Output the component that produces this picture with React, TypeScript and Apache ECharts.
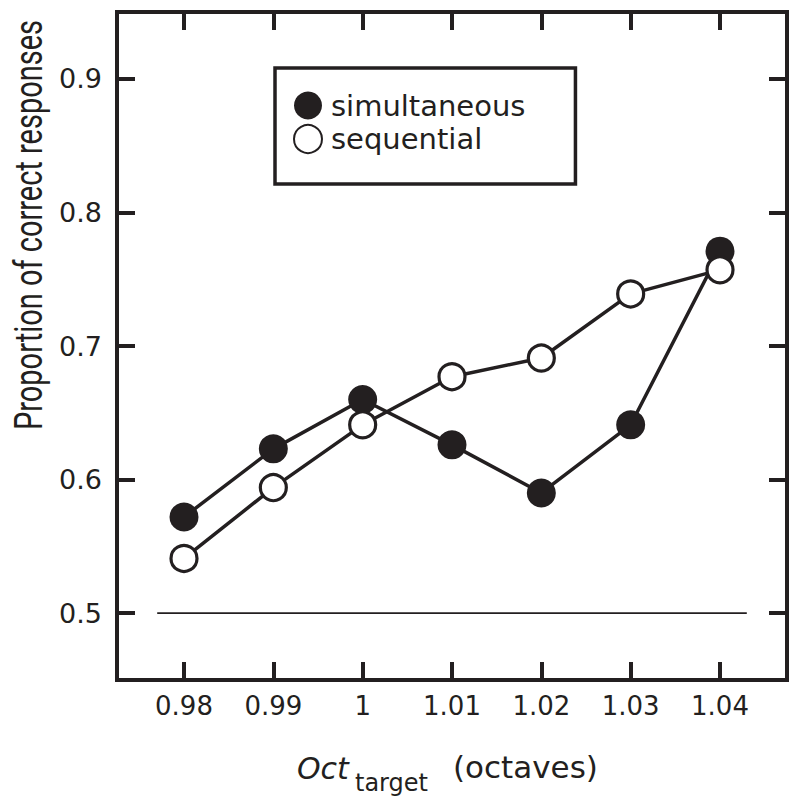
import React, { useEffect, useRef } from "react";
import * as echarts from "echarts";

const xTicks = [0.98, 0.99, 1.0, 1.01, 1.02, 1.03, 1.04];
const xTickLabels = ["0.98", "0.99", "1", "1.01", "1.02", "1.03", "1.04"];
const yTicks = [0.5, 0.6, 0.7, 0.8, 0.9];
const yTickLabels = ["0.5", "0.6", "0.7", "0.8", "0.9"];
const simultaneous = [0.572, 0.623, 0.66, 0.626, 0.59, 0.641, 0.771];
const sequential = [0.541, 0.594, 0.641, 0.677, 0.691, 0.739, 0.757];
const chanceLevel = 0.5;
const chanceLineX = [0.977, 1.043];

const INK = "#231f20";
const FONT = "DejaVu Sans";

export default function App() {
  const ref = useRef<HTMLDivElement>(null);
  useEffect(() => {
    if (!ref.current) return;
    const chart = echarts.init(ref.current, null, { renderer: "svg" });
    const xFmt = (v: number) => {
      let best = 0;
      xTicks.forEach((t, i) => {
        if (Math.abs(t - v) < Math.abs(xTicks[best] - v)) best = i;
      });
      return xTickLabels[best];
    };
    const yFmt = (v: number) => {
      let best = 0;
      yTicks.forEach((t, i) => {
        if (Math.abs(t - v) < Math.abs(yTicks[best] - v)) best = i;
      });
      return yTickLabels[best];
    };
    const tickStyle = { show: true, inside: true, length: 18, lineStyle: { color: INK, width: 4 } };
    const xCommon = {
      type: "value" as const,
      min: 0.9725,
      max: 1.0475,
      axisLine: { show: false },
      splitLine: { show: false },
    };
    const yCommon = {
      type: "value" as const,
      min: 0.45,
      max: 0.95,
      axisLine: { show: false },
      splitLine: { show: false },
    };
    chart.setOption({
      animation: false,
      backgroundColor: "#ffffff",
      grid: {
        left: 117,
        right: 13,
        top: 12,
        bottom: 125,
        show: true,
        borderColor: INK,
        borderWidth: 4,
        backgroundColor: "transparent",
      },
      xAxis: [
        {
          ...xCommon,
          position: "bottom",
          axisTick: { ...tickStyle, customValues: xTicks },
          axisLabel: {
            customValues: xTicks,
            formatter: xFmt,
            color: INK,
            fontFamily: FONT,
            fontSize: 26,
            margin: 13,
          },
        },
        {
          ...xCommon,
          position: "top",
          axisTick: { ...tickStyle, customValues: xTicks },
          axisLabel: { show: false },
        },
      ],
      yAxis: [
        {
          ...yCommon,
          position: "left",
          axisTick: { ...tickStyle, customValues: yTicks },
          axisLabel: {
            customValues: yTicks,
            formatter: yFmt,
            color: INK,
            fontFamily: FONT,
            fontSize: 27,
            margin: 15,
          },
        },
        {
          ...yCommon,
          position: "right",
          axisTick: { ...tickStyle, customValues: yTicks },
          axisLabel: { show: false },
        },
      ],
      legend: {
        data: ["simultaneous", "sequential"],
        orient: "vertical",
        left: 275,
        top: 68,
        icon: "circle",
        itemWidth: 28,
        itemHeight: 28,
        itemGap: 4,
        padding: [23, 50, 30, 18],
        borderColor: INK,
        borderWidth: 3.5,
        borderRadius: 0,
        backgroundColor: "#ffffff",
        textStyle: { color: INK, fontFamily: FONT, fontSize: 29, padding: [0, 0, 0, 4] },
      },
      graphic: [
        {
          type: "text",
          x: 28,
          y: 225,
          rotation: Math.PI / 2,
          scaleY: 1.35,
          style: {
            text: "Proportion of correct responses",
            fill: INK,
            font: `29px Roboto`,
            align: "center",
            verticalAlign: "middle",
          },
        },
        {
          type: "text",
          x: 297,
          y: 783,
          style: {
            text: "Oct",
            fill: INK,
            font: `italic 30px ${FONT}`,
            align: "left",
            verticalAlign: "bottom",
          },
        },
        {
          type: "text",
          x: 355,
          y: 795,
          style: {
            text: "target",
            fill: INK,
            font: `24px ${FONT}`,
            align: "left",
            verticalAlign: "bottom",
          },
        },
        {
          type: "text",
          x: 453,
          y: 782,
          style: {
            text: "(octaves)",
            fill: INK,
            font: `31px ${FONT}`,
            align: "left",
            verticalAlign: "bottom",
          },
        },
      ],
      series: [
        {
          name: "chance",
          type: "line",
          xAxisIndex: 0,
          yAxisIndex: 0,
          data: chanceLineX.map((x) => [x, chanceLevel]),
          symbol: "none",
          lineStyle: { color: INK, width: 1.7 },
          silent: true,
          z: 1,
        },
        {
          name: "simultaneous",
          type: "line",
          xAxisIndex: 0,
          yAxisIndex: 0,
          data: xTicks.map((x, i) => [x, simultaneous[i]]),
          symbol: "circle",
          symbolSize: 29,
          showAllSymbol: true,
          lineStyle: { color: INK, width: 3.5 },
          itemStyle: { color: INK, borderWidth: 0 },
          z: 2,
        },
        {
          name: "sequential",
          type: "line",
          xAxisIndex: 0,
          yAxisIndex: 0,
          data: xTicks.map((x, i) => [x, sequential[i]]),
          symbol: "circle",
          symbolSize: 26,
          showAllSymbol: true,
          lineStyle: { color: INK, width: 3.5 },
          itemStyle: { color: "#ffffff", borderColor: INK, borderWidth: 3.2 },
          z: 3,
        },
      ],
    });
    return () => chart.dispose();
  }, []);
  return <div ref={ref} style={{ width: 800, height: 805, position: "absolute", left: 0, top: 0 }} />;
}
